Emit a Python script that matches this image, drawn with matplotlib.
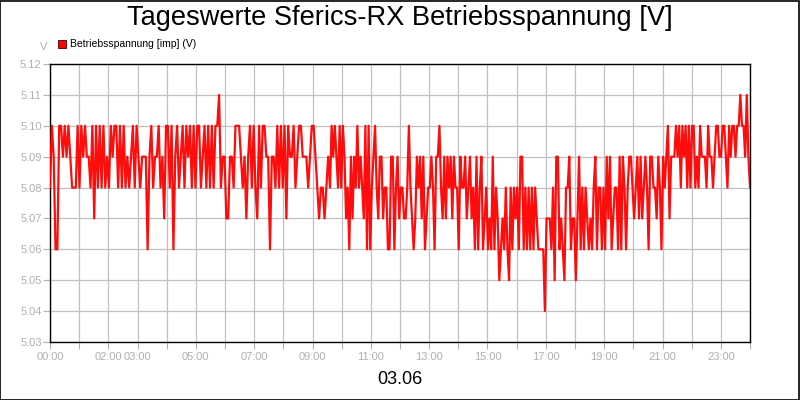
import matplotlib
matplotlib.use("Agg")
import matplotlib.pyplot as plt
from matplotlib.patches import Rectangle
import numpy as np

plt.rcParams['font.family'] = ['Liberation Sans', 'DejaVu Sans']

title = "Tageswerte Sferics-RX Betriebsspannung [V]"
date_label = "03.06"
legend_label = "Betriebsspannung [imp] (V)"
unit_label = "V"

# voltage readings per time segment (hours)
seg_bounds = [0.0, 4.8, 9.6, 14.4, 19.2, 24.0]
seg1 = [5.08, 5.10, 5.09, 5.06, 5.06, 5.10, 5.10, 5.09, 5.10, 5.09,
        5.10, 5.09, 5.08, 5.08, 5.08, 5.10, 5.08, 5.10, 5.09, 5.10,
        5.09, 5.09, 5.08, 5.10, 5.07, 5.10, 5.08, 5.10, 5.08, 5.10,
        5.08, 5.09, 5.08, 5.10, 5.09, 5.10, 5.10, 5.08, 5.10, 5.08,
        5.10, 5.08, 5.09, 5.08, 5.09, 5.10, 5.08, 5.10, 5.09, 5.08,
        5.09, 5.09, 5.09, 5.06, 5.09, 5.10, 5.08, 5.09, 5.09, 5.10,
        5.08, 5.09, 5.07, 5.10, 5.10, 5.08, 5.10, 5.06, 5.09, 5.10,
        5.08, 5.09, 5.10, 5.08, 5.10, 5.09]
seg2 = [5.10, 5.08, 5.10, 5.08, 5.10, 5.10, 5.08, 5.09, 5.10, 5.08,
        5.10, 5.08, 5.10, 5.08, 5.10, 5.10, 5.11, 5.08, 5.09, 5.09,
        5.07, 5.07, 5.09, 5.09, 5.08, 5.10, 5.10, 5.10, 5.09, 5.08,
        5.09, 5.07, 5.09, 5.10, 5.08, 5.10, 5.08, 5.07, 5.10, 5.08,
        5.10, 5.10, 5.09, 5.09, 5.06, 5.09, 5.09, 5.08, 5.10, 5.08,
        5.10, 5.08, 5.10, 5.07, 5.10, 5.09, 5.09, 5.10, 5.08, 5.09,
        5.10, 5.10, 5.09, 5.09, 5.09, 5.08, 5.09, 5.10, 5.10, 5.09,
        5.08, 5.07, 5.08, 5.08, 5.07, 5.08, 5.09]
seg3 = [5.08, 5.10, 5.09, 5.10, 5.09, 5.08, 5.10, 5.08, 5.10, 5.09,
        5.07, 5.08, 5.06, 5.09, 5.07, 5.09, 5.08, 5.10, 5.08, 5.09,
        5.08, 5.07, 5.10, 5.06, 5.10, 5.06, 5.08, 5.09, 5.10, 5.08,
        5.07, 5.09, 5.09, 5.07, 5.08, 5.08, 5.06, 5.06, 5.09, 5.09,
        5.06, 5.08, 5.09, 5.07, 5.08, 5.08, 5.07, 5.07, 5.08, 5.10,
        5.08, 5.07, 5.06, 5.07, 5.09, 5.08, 5.09, 5.07, 5.09, 5.06,
        5.07, 5.08, 5.08, 5.09, 5.08, 5.06, 5.09, 5.09, 5.10, 5.08,
        5.07, 5.09, 5.07, 5.09, 5.08, 5.09, 5.07, 5.09, 5.08, 5.08,
        5.06, 5.09, 5.08, 5.08, 5.09, 5.07, 5.08]
seg4 = [5.09, 5.07, 5.08, 5.06, 5.09, 5.06, 5.08, 5.09, 5.06, 5.07,
        5.08, 5.06, 5.07, 5.06, 5.09, 5.06, 5.08, 5.07, 5.05, 5.06,
        5.07, 5.06, 5.08, 5.06, 5.05, 5.08, 5.06, 5.08, 5.07, 5.08,
        5.06, 5.09, 5.09, 5.06, 5.08, 5.06, 5.08, 5.06, 5.08, 5.06,
        5.08, 5.07, 5.06, 5.06, 5.06, 5.06, 5.04, 5.07, 5.07, 5.07,
        5.06, 5.08, 5.05, 5.09, 5.09, 5.06, 5.07, 5.06, 5.05, 5.08,
        5.08, 5.09, 5.06, 5.07, 5.07, 5.05, 5.07, 5.09, 5.06, 5.08,
        5.06, 5.08, 5.07, 5.06, 5.07, 5.06, 5.08, 5.09, 5.06, 5.08,
        5.08, 5.06, 5.08, 5.06, 5.09, 5.07]
seg5 = [5.09, 5.06, 5.07, 5.08, 5.08, 5.06, 5.09, 5.06, 5.09, 5.08,
        5.06, 5.08, 5.09, 5.09, 5.08, 5.07, 5.08, 5.09, 5.07, 5.09,
        5.07, 5.08, 5.09, 5.08, 5.06, 5.09, 5.09, 5.08, 5.08, 5.07,
        5.09, 5.08, 5.06, 5.09, 5.08, 5.09, 5.10, 5.07, 5.09, 5.09,
        5.09, 5.10, 5.09, 5.10, 5.08, 5.10, 5.09, 5.10, 5.08, 5.10,
        5.08, 5.10, 5.10, 5.08, 5.09, 5.08, 5.10, 5.09, 5.09, 5.09,
        5.08, 5.10, 5.09, 5.09, 5.08, 5.09, 5.10, 5.10, 5.09, 5.09,
        5.10, 5.10, 5.09, 5.08, 5.10, 5.09, 5.10, 5.10, 5.09, 5.10,
        5.10, 5.11, 5.10, 5.10, 5.09, 5.11, 5.09, 5.08]
segments = [seg1, seg2, seg3, seg4, seg5]

y_ticks = [5.03, 5.04, 5.05, 5.06, 5.07, 5.08, 5.09, 5.10, 5.11, 5.12]
x_label_hours = [0, 2, 3, 5, 7, 9, 11, 13, 15, 17, 19, 21, 23]

times, values = [], []
for i, seg in enumerate(segments):
    n = len(seg)
    last = (i == len(segments) - 1)
    t = np.linspace(seg_bounds[i], seg_bounds[i + 1], n, endpoint=last)
    times.extend(t)
    values.extend(seg)

fig = plt.figure(figsize=(8, 4), dpi=100)
fig.patch.set_facecolor('white')
fig.patches.append(Rectangle((0.0005, 0.001), 0.998, 0.997, transform=fig.transFigure,
                             fill=False, edgecolor='black', linewidth=1.2))

ax = fig.add_axes([0.0625, 0.145, 0.875, 0.695])
ax.plot(times, values, color='#ff0000', linewidth=1.6, alpha=0.95, zorder=3)

ax.set_xlim(0, 24)
ax.set_ylim(5.03, 5.12)
ax.set_xticks(range(0, 25))
ax.set_xticklabels([f"{h:02d}:00" if h in x_label_hours else "" for h in range(0, 25)])
ax.set_yticks(y_ticks)
ax.set_yticklabels([f"{v:.2f}" for v in y_ticks])
ax.grid(True, color='#c0c0c0', linewidth=0.9)
ax.set_axisbelow(True)
ax.tick_params(axis='both', colors='#b0b0b0', labelcolor='#b0b0b0', labelsize=8,
               length=5, width=0.8, direction='out')
ax.tick_params(axis='x', pad=2)
ax.tick_params(axis='y', pad=1)
for s in ax.spines.values():
    s.set_color('black')
    s.set_linewidth(1.0)

fig.text(0.5, 0.955, title, ha='center', va='center', fontsize=19.6, color='black')
fig.text(0.5, 0.05, date_label, ha='center', va='center', fontsize=13, color='black')
fig.text(0.054, 0.882, unit_label, ha='center', va='center', fontsize=8, color='#b0b0b0')

fig.patches.append(Rectangle((58 / 800, 1 - 48 / 400), 8 / 800, 8 / 400, transform=fig.transFigure,
                             facecolor='#ff0000', edgecolor='#400000', linewidth=0.6))
fig.text(70 / 800, 1 - 44 / 400, legend_label, ha='left', va='center', fontsize=7.5, color='black')

fig.savefig('out.png', dpi=100)
